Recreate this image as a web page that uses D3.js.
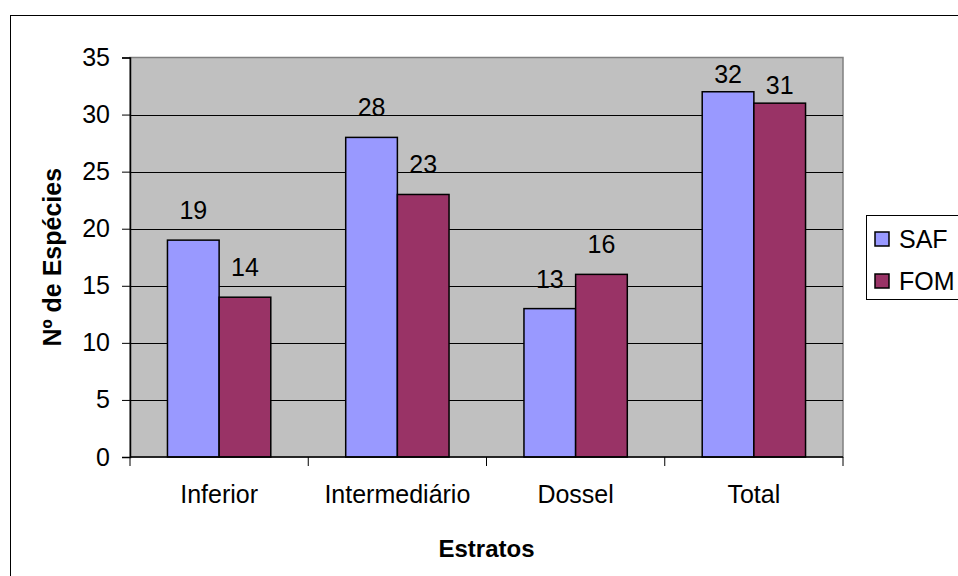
<!DOCTYPE html>
<meta charset="utf-8">
<script src="https://d3js.org/d3.v7.min.js"></script>
<style>
  body { margin: 0; background: #fff; }
  text { font-family: "Liberation Sans", Arial, sans-serif; }
</style>
<div id="dataVis"></div>
<script>
// data
var categories = ["Inferior", "Intermediário", "Dossel", "Total"];
var seriesNames = ["SAF", "FOM"];
var safValues = [19, 28, 13, 32];
var fomValues = [14, 23, 16, 31];
var yTicks = [0, 5, 10, 15, 20, 25, 30, 35];
var colors = ["#9999ff", "#993366"];

var W = 958, H = 576;
var plot = {left: 130, top: 57.5, right: 843, bottom: 457};
var fs = 25;

var svg = d3.select("#dataVis").append("svg")
    .attr("width", W).attr("height", H);

// outer chart border (only left/top visible, the rest is cropped)
svg.append("rect")
    .attr("x", 10.5).attr("y", 15.5)
    .attr("width", 1000).attr("height", 1000)
    .attr("fill", "#fff").attr("stroke", "#000").attr("stroke-width", 1);

var x = d3.scaleBand()
    .domain(categories)
    .range([plot.left, plot.right]);

var bw = x.bandwidth() / (2 + 1.45);
var xs = d3.scaleBand()
    .domain(seriesNames)
    .range([0, 2 * bw]);

var y = d3.scaleLinear()
    .domain([0, 35])
    .range([plot.bottom, plot.top]);

// plot area
svg.append("rect")
    .attr("x", plot.left).attr("y", plot.top)
    .attr("width", plot.right - plot.left).attr("height", plot.bottom - plot.top)
    .attr("fill", "#c0c0c0").attr("stroke", "#808080").attr("stroke-width", 1.5);

// gridlines
svg.append("g").selectAll("line")
    .data(yTicks.filter(d => d > 0 && d < 35))
    .enter().append("line")
      .attr("x1", plot.left).attr("x2", plot.right)
      .attr("y1", d => Math.round(y(d)) + 0.5).attr("y2", d => Math.round(y(d)) + 0.5)
      .attr("stroke", "#000").attr("stroke-width", 1);

var table = categories.map((c, i) => ({cat: c, vals: [safValues[i], fomValues[i]]}));

var groups = svg.append("g").selectAll("g")
    .data(table)
    .enter().append("g")
      .attr("transform", d => "translate(" + (x(d.cat) + (x.bandwidth() - 2 * bw) / 2) + ",0)");

groups.selectAll("rect")
    .data(d => d.vals.map((v, i) => ({name: seriesNames[i], v: v, i: i})))
    .enter().append("rect")
      .attr("x", d => xs(d.name))
      .attr("y", d => y(d.v))
      .attr("width", xs.bandwidth())
      .attr("height", d => y(0) - y(d.v))
      .attr("fill", d => colors[d.i])
      .attr("stroke", "#000").attr("stroke-width", 1.5);

// value labels; pulled closer to the bar when they would leave the plot
function labelY(v) {
  var base = y(v) - 21;
  if (base - 26 < plot.top) base = y(v) - 9;
  return base;
}

groups.selectAll("text")
    .data(d => d.vals.map((v, i) => ({name: seriesNames[i], v: v})))
    .enter().append("text")
      .attr("x", d => xs(d.name) + xs.bandwidth() / 2)
      .attr("y", d => labelY(d.v))
      .attr("text-anchor", "middle")
      .attr("font-size", fs)
      .attr("fill", "#000")
      .text(d => d.v);

// y axis
var yAxis = svg.append("g")
    .attr("transform", "translate(" + plot.left + ",0)")
    .call(d3.axisLeft(y).tickValues(yTicks).tickSize(8).tickPadding(12));
yAxis.select(".domain").attr("stroke", "#000").attr("stroke-width", 1.5);
yAxis.selectAll(".tick line").attr("stroke", "#000");
yAxis.selectAll(".tick text").attr("font-size", fs).attr("fill", "#000")
    .attr("font-family", "Liberation Sans, Arial, sans-serif");

// x axis: ticks at category boundaries
var xAxisG = svg.append("g")
    .attr("transform", "translate(0," + plot.bottom + ")");
xAxisG.append("line")
    .attr("x1", plot.left).attr("x2", plot.right)
    .attr("stroke", "#000").attr("stroke-width", 1.5);
var bounds = categories.map(c => x(c)).concat([plot.right]);
xAxisG.selectAll(".b").data(bounds).enter().append("line")
    .attr("x1", d => d).attr("x2", d => d)
    .attr("y1", 0).attr("y2", 9)
    .attr("stroke", "#000");
xAxisG.selectAll("text").data(categories).enter().append("text")
    .attr("x", d => x(d) + x.bandwidth() / 2)
    .attr("y", 46)
    .attr("text-anchor", "middle")
    .attr("font-size", fs)
    .text(d => d);

// axis titles
svg.append("text")
    .attr("x", (plot.left + plot.right) / 2).attr("y", 557)
    .attr("text-anchor", "middle")
    .attr("font-size", 24).attr("font-weight", "bold")
    .text("Estratos");

svg.append("text")
    .attr("transform", "translate(61," + (plot.top + plot.bottom) / 2 + ") rotate(-90)")
    .attr("text-anchor", "middle")
    .attr("font-size", 25).attr("font-weight", "bold")
    .text("Nº de Espécies");

// legend
var legend = svg.append("g");
legend.append("rect")
    .attr("x", 866.5).attr("y", 215.5)
    .attr("width", 120).attr("height", 84)
    .attr("fill", "#fff").attr("stroke", "#000").attr("stroke-width", 1);
var li = legend.selectAll("g.item").data(seriesNames).enter().append("g")
    .attr("transform", (d, i) => "translate(875," + (232 + i * 42) + ")");
li.append("rect")
    .attr("width", 14).attr("height", 14)
    .attr("fill", (d, i) => colors[i])
    .attr("stroke", "#000").attr("stroke-width", 1.5);
li.append("text")
    .attr("x", 24).attr("y", 16)
    .attr("font-size", fs)
    .text(d => d);
</script>
